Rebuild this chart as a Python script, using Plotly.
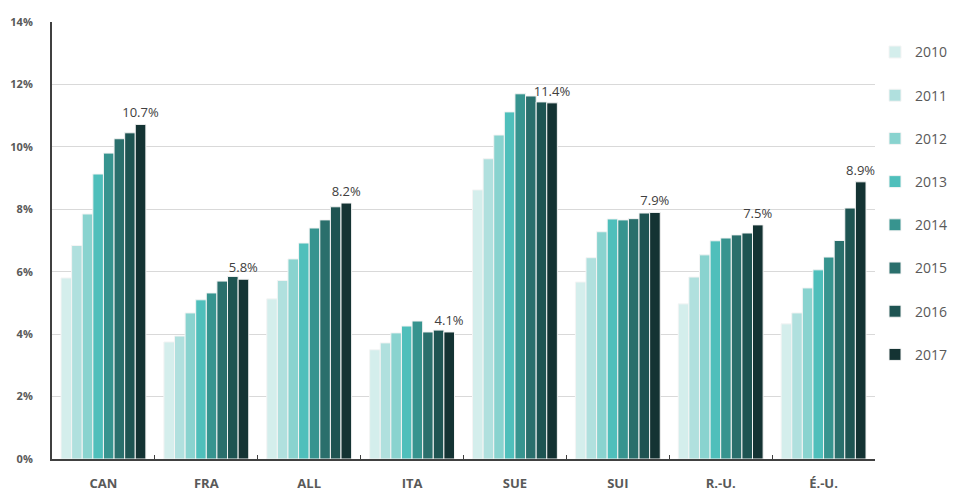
import plotly.graph_objects as go

countries = ["CAN", "FRA", "ALL", "ITA", "SUE", "SUI", "R.-U.", "É.-U."]
years = ["2010", "2011", "2012", "2013", "2014", "2015", "2016", "2017"]

v2010 = [5.80, 3.75, 5.13, 3.50, 8.62, 5.67, 4.97, 4.33]
v2011 = [6.84, 3.94, 5.72, 3.72, 9.62, 6.45, 5.83, 4.68]
v2012 = [7.85, 4.68, 6.41, 4.04, 10.38, 7.28, 6.54, 5.48]
v2013 = [9.13, 5.10, 6.92, 4.26, 11.12, 7.69, 6.99, 6.06]
v2014 = [9.80, 5.32, 7.40, 4.42, 11.70, 7.66, 7.08, 6.47]
v2015 = [10.26, 5.70, 7.66, 4.07, 11.63, 7.70, 7.18, 7.00]
v2016 = [10.45, 5.85, 8.08, 4.13, 11.44, 7.88, 7.24, 8.04]
v2017 = [10.72, 5.76, 8.20, 4.07, 11.41, 7.90, 7.50, 8.88]

series = [v2010, v2011, v2012, v2013, v2014, v2015, v2016, v2017]
colors = ["#d4eeec", "#b0e0de", "#89d3cf", "#4fbfbb", "#37948f", "#2a6f6c", "#1e5452", "#143333"]

fig = go.Figure()
for i, (yr, vals, col) in enumerate(zip(years, series, colors)):
    last = (i == len(years) - 1)
    fig.add_trace(go.Bar(
        name=yr, x=countries, y=vals,
        marker=dict(color=col, line=dict(color="#f4f4f4", width=1)),
        legendgroup=yr,
        text=[f"{v:.1f}%" for v in vals] if last else None,
        textposition="outside" if last else None,
        constraintext="none",
        textfont=dict(family="Open Sans", size=13, color="#404040"),
        cliponaxis=False,
    ))

fig.update_layout(
    width=955, height=489,
    barmode="group", bargap=0.175, bargroupgap=0.0,
    margin=dict(l=44, r=88, t=14, b=38, autoexpand=False),
    plot_bgcolor="white", paper_bgcolor="white",
    font=dict(family="Open Sans", color="#595959"),
    legend=dict(
        x=1.0, y=0.967, xanchor="left", yanchor="top",
        font=dict(size=14, color="#595959"),
        tracegroupgap=22, itemwidth=30,
    ),
    yaxis=dict(
        range=[0, 14], dtick=2, ticksuffix="%",
        showgrid=True, gridcolor="#d9d9d9", gridwidth=1,
        showline=True, linecolor="#404040", linewidth=2,
        ticks="", zeroline=False, automargin=False,
        ticklabelstandoff=15,
        tickfont=dict(size=11, color="#595959", weight="bold"),
    ),
    xaxis=dict(
        showline=True, linecolor="#404040", linewidth=2,
        ticks="inside", tickson="boundaries", ticklen=4, tickcolor="#404040",
        automargin=False, ticklabelstandoff=11,
        tickfont=dict(size=13, color="#595959", weight="bold"),
    ),
)

fig.write_html("out.html")
